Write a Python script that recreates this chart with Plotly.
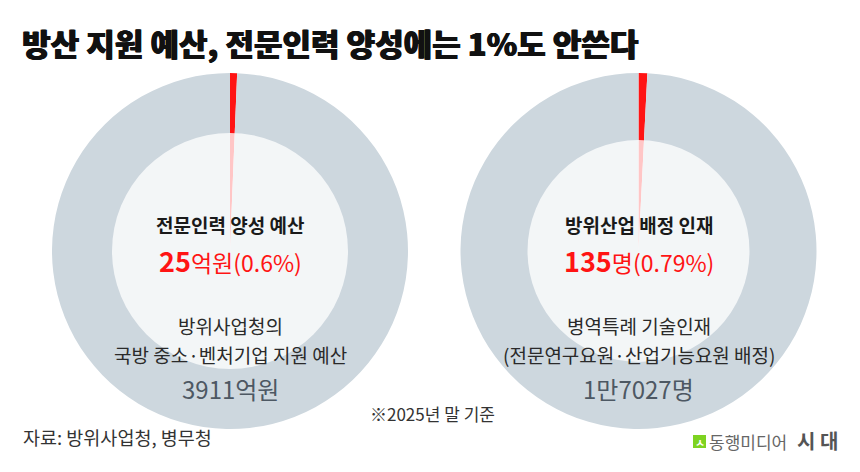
import plotly.graph_objects as go

# values
budget_total = 3911       # 억원, 국방 중소·벤처기업 지원 예산
budget_talent = 25        # 억원, 전문인력 양성 예산
people_total = 17027      # 명, 병역특례 기술인재
people_defense = 135      # 명, 방위산업 배정 인재

W, H = 860, 472
PAGE_PAD = 8  # default body margin of the written page
FONT = "Noto Sans CJK KR"
RED = "#ff1414"
GRAY_RING = "#cdd7de"


def px(x):
    return (x - PAGE_PAD) / W


def py(y):
    return (H - (y - PAGE_PAD)) / H


def pie_domain(cx, cy, r):
    return dict(x=[px(cx - r), px(cx + r)], y=[py(cy + r), py(cy - r)])


fig = go.Figure()

# left donut: 예산
fig.add_trace(go.Pie(
    values=[budget_talent, budget_total - budget_talent],
    marker=dict(colors=[RED, GRAY_RING]),
    domain=pie_domain(230, 251, 178),
    sort=False, direction="clockwise", rotation=0,
    textinfo="none", hoverinfo="skip", showlegend=False,
))

# right donut: 인력
fig.add_trace(go.Pie(
    values=[people_defense, people_total - people_defense],
    marker=dict(colors=[RED, GRAY_RING]),
    domain=pie_domain(638.5, 251, 178),
    sort=False, direction="clockwise", rotation=0,
    textinfo="none", hoverinfo="skip", showlegend=False,
))

shapes = []
# translucent white centres (let the red slice show through faintly)
for cx, r in [(230, 118), (638.5, 111)]:
    shapes.append(dict(
        type="circle", xref="paper", yref="paper", layer="above",
        x0=px(cx - r), x1=px(cx + r), y0=py(251 + r), y1=py(251 - r),
        fillcolor="rgba(255,255,255,0.76)", line=dict(width=0),
    ))
# logo box
shapes.append(dict(
    type="rect", xref="paper", yref="paper", layer="above",
    x0=px(693), x1=px(706), y0=py(448), y1=py(435),
    fillcolor="#7ed321", line=dict(width=0),
))

annotations = []


def note(text, x, y, size, color="#222", weight=400, xanchor="center", shadow="none"):
    annotations.append(dict(
        text=text, x=px(x), y=py(y), xref="paper", yref="paper",
        xanchor=xanchor, yanchor="middle", showarrow=False,
        font=dict(family=FONT, size=size, color=color, weight=weight, shadow=shadow),
    ))


note("방산 지원 예산, 전문인력 양성에는 1%도 안쓴다", 20, 42, 31, "#111", 900, "left",
     "0.7px 0 0 #111, -0.4px 0 0 #111")

# left donut labels
note("전문인력 양성 예산", 230, 224, 19, "#1a1a1a", 700)
note("<span style='font-size:27px;font-weight:700'>%d</span>억원(0.6%%)" % budget_talent,
     230, 260, 23, RED)
note("방위사업청의", 230, 325, 19, "#2a2a2a")
note("국방 중소·벤처기업 지원 예산", 230, 354, 19, "#2a2a2a")
note("%d억원" % budget_total, 230, 388, 24, "#4d5863")

# right donut labels
note("방위산업 배정 인재", 638.5, 224, 19, "#1a1a1a", 700)
note("<span style='font-size:27px;font-weight:700'>%d</span>명(0.79%%)" % people_defense,
     638.5, 260, 23, RED)
note("병역특례 기술인재", 638.5, 325, 19, "#2a2a2a")
note("(전문연구요원·산업기능요원 배정)", 638.5, 354, 19, "#2a2a2a")
note("1만%d명" % (people_total - 10000), 638.5, 388, 24, "#4d5863")

# footer
note("※2025년 말 기준", 432, 413, 17, "#333")
note("자료: 방위사업청, 병무청", 21, 437, 18.5, "#333", 400, "left")
note("ㅅ", 699.5, 441.5, 11, "white", 700)
note("동행미디어", 707, 441, 17, "#666", 400, "left")
note("시 대", 795, 440, 20, "#555", 700, "left")

fig.update_layout(
    width=W, height=H,
    margin=dict(l=0, r=0, t=0, b=0),
    paper_bgcolor="white", plot_bgcolor="white",
    shapes=shapes, annotations=annotations,
    showlegend=False,
)

fig.write_html("out.html")
